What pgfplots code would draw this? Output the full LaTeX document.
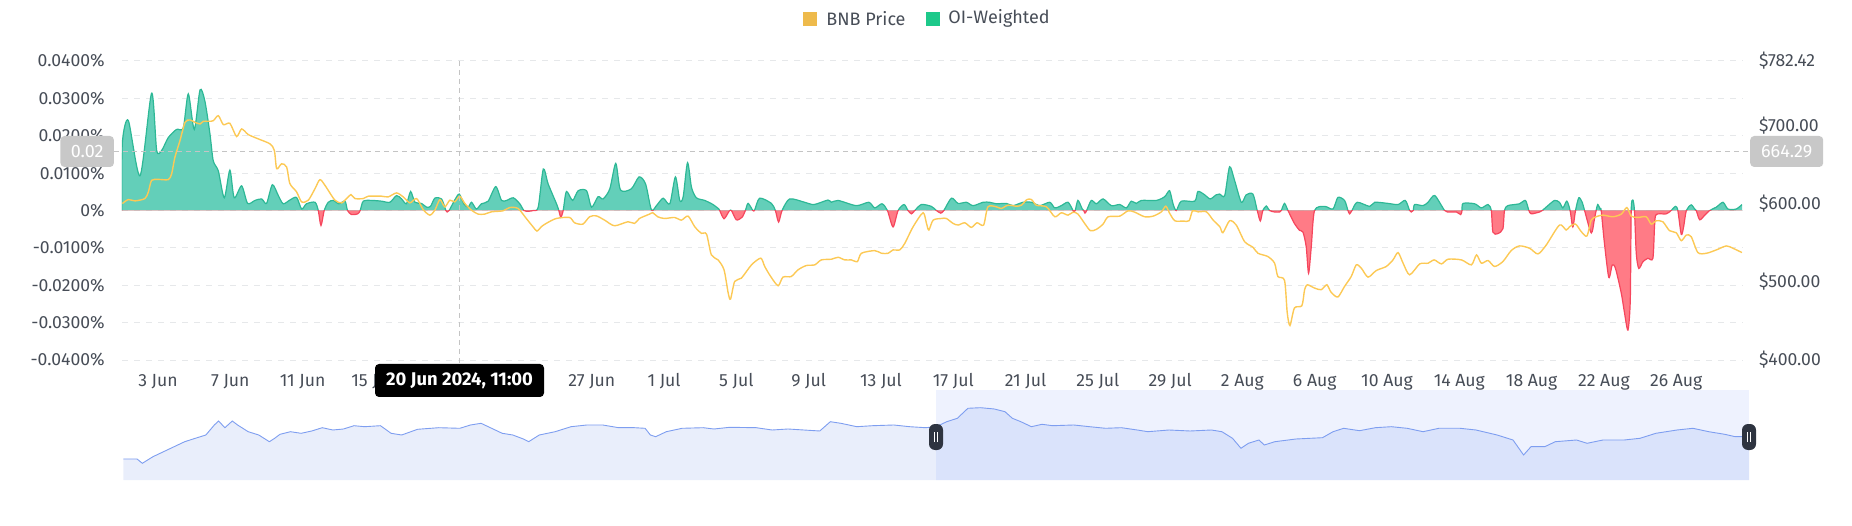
\documentclass[border=0pt]{standalone}
\usepackage{pgfplots}
\pgfplotsset{compat=1.18}
\usepackage{pgfplotstable}
\usepackage{fontspec}
\setmainfont{Fira Sans}
\definecolor{gridgray}{HTML}{E6E8EA}
\definecolor{labelgray}{HTML}{474D57}
\definecolor{ogreen}{HTML}{63CFB9}
\definecolor{ogreenline}{HTML}{2DB896}
\definecolor{ored}{HTML}{FF7B86}
\definecolor{oredline}{HTML}{F6465D}
\definecolor{bnbline}{HTML}{FCC955}
\definecolor{bnbsq}{HTML}{EEBA4B}
\definecolor{oisq}{HTML}{1DC98A}
\definecolor{crossgray}{HTML}{C4C4C4}
\definecolor{boxgray}{HTML}{C8C8C8}
\definecolor{navfill}{HTML}{E9EEFB}
\definecolor{navsel}{HTML}{EEF2FE}
\definecolor{navselfill}{HTML}{DAE3FB}
\definecolor{navline}{HTML}{7E9EF0}
\definecolor{handle}{HTML}{2E3440}

\pgfplotstableread{
x y
0.00 0
0.03 0.0181
0.36 0.0241
1.01 0.0093
1.65 0.0314
1.93 0.0161
2.21 0.0161
2.57 0.0195
3.03 0.0217
3.40 0.0221
3.68 0.0312
4.01 0.0217
4.33 0.0323
4.60 0.0292
4.88 0.0204
5.06 0.0133
5.34 0.0106
5.67 0.0034
5.98 0.0108
6.22 0.0034
6.63 0.0066
6.96 0.0019
7.37 0.0027
7.74 0.0031
8.01 0.0019
8.33 0.0069
8.66 0.0040
8.93 0.0018
9.30 0.0028
9.67 0.0035
9.95 0.0004
10.22 0.0018
10.69 0.0022
10.87 0
11.02 -0.0040
11.20 0
11.42 0.0022
11.70 0.0027
12.01 0.0018
12.35 0.0025
12.49 0
12.71 -0.0011
13.05 -0.0009
13.19 0
13.36 0.0025
13.82 0.0027
14.37 0.0025
14.83 0.0022
15.20 0.0040
15.48 0.0031
15.75 0.0018
15.98 0.0051
16.22 0.0022
16.58 0.0019
16.86 0.0009
17.08 0.0011
17.32 0.0033
17.69 0.0031
17.93 0
18.00 -0.0004
18.11 0
18.42 0.0028
18.67 0.0044
18.92 0.0018
19.16 0.0009
19.35 0.0022
19.62 0.0004
19.90 0.0018
20.27 0.0025
20.69 0.0064
21.01 0.0027
21.29 0.0027
21.66 0.0034
22.02 0.0018
22.25 0
22.50 -0.0002
22.76 0
23.04 0.0009
23.32 0.0111
23.59 0.0071
24.05 0.0018
24.18 0
24.29 -0.0018
24.42 0
24.60 0.0051
24.94 0.0027
25.25 0.0053
25.71 0.0053
25.99 0.0009
26.35 0.0037
26.63 0.0031
27.00 0.0058
27.33 0.0126
27.59 0.0055
28.19 0.0058
28.62 0.0090
28.98 0.0071
29.30 0.0002
29.58 0.0013
29.95 0.0033
30.32 0.0018
30.63 0.0090
30.87 0.0027
31.06 0.0037
31.30 0.0128
31.52 0.0062
31.79 0.0034
32.25 0.0027
32.71 0.0016
33.03 0.0004
33.08 0
33.32 -0.0022
33.60 -0.0002
33.73 0
34.00 -0.0025
34.32 -0.0018
34.50 0
34.65 0.0019
34.92 0
35.02 0.0002
35.29 0.0033
35.94 0.0019
36.16 0
36.34 -0.0031
36.53 0
36.95 0.0031
37.78 0.0022
38.30 0.0016
39.07 0.0028
39.26 0.0022
39.63 0.0027
40.64 0.0013
41.33 0.0022
41.66 0.0007
42.06 0.0018
42.36 0
42.67 -0.0044
42.95 0
43.28 0.0016
43.50 0
43.69 -0.0009
43.87 0
44.24 0.0016
44.79 0.0011
45.07 0
45.31 -0.0007
45.48 0
45.90 0.0033
46.27 0.0019
46.73 0.0022
47.10 0.0013
47.65 0.0022
48.02 0.0022
48.39 0.0018
48.94 0.0019
49.31 0.0013
49.86 0.0022
50.33 0.0022
50.79 0.0013
51.34 0.0022
51.62 0.0007
51.98 0.0013
52.35 0.0022
52.63 0
52.68 -0.0004
52.75 0
52.90 0.0027
53.14 0.0004
53.22 0
53.29 -0.0007
53.38 0
53.64 0.0027
53.92 0.0018
54.29 0.0031
54.75 0.0013
55.21 0.0016
55.58 0.0007
55.85 0.0025
56.13 0.0019
56.41 0.0027
57.24 0.0027
57.70 0.0037
57.97 0.0053
58.16 0.0018
58.34 0
58.62 0.0025
59.36 0.0025
59.54 0.0051
59.91 0.0042
60.22 0.0031
60.55 0.0042
60.74 0.0044
61.02 0.0040
61.29 0.0117
61.57 0.0080
61.94 0.0022
62.21 0.0042
62.58 0.0044
62.82 0
62.99 -0.0028
63.13 0
63.32 0.0012
63.50 0
63.78 -0.0004
64.06 -0.0004
64.15 0
64.33 0.0019
64.52 0
64.88 -0.0035
65.16 -0.0053
65.35 -0.0058
65.53 -0.0097
65.66 -0.0168
65.81 -0.0097
65.99 0
66.55 0.0011
67.01 0.0004
67.28 0.0035
67.65 0.0027
67.84 0
67.93 -0.0009
68.06 0
68.35 0.0022
69.04 0.0011
69.32 0.0022
70.05 0.0019
70.61 0.0016
71.01 0.0027
71.25 0
71.34 -0.0004
71.45 0
71.53 0.0016
71.99 0.0013
72.27 0.0022
72.64 0.0040
73.19 0
73.47 -0.0004
73.84 -0.0004
74.08 -0.0011
74.15 0
74.21 0.0019
74.85 0.0018
75.22 0.0007
75.59 0.0016
75.77 0
75.86 -0.0058
76.13 -0.0062
76.41 -0.0049
76.50 0
76.68 0.0013
77.33 0.0018
77.66 0.0027
77.85 0
77.98 -0.0009
78.44 -0.0004
78.59 0
78.90 0.0013
79.27 0.0027
79.54 0.0022
79.73 0.0007
79.95 0.0025
80.13 0
80.28 -0.0044
80.43 0
80.61 0.0034
80.80 0.0022
80.93 0
81.30 -0.0060
81.48 -0.0022
81.57 0
81.66 0.0016
81.79 0.0004
81.85 0
82.03 -0.0088
82.27 -0.0179
82.46 -0.0146
82.64 -0.0155
82.96 -0.0221
83.14 -0.0274
83.33 -0.0320
83.46 -0.0239
83.51 0
83.60 0.0028
83.69 0
83.79 -0.0115
83.93 -0.0155
84.16 -0.0137
84.43 -0.0128
84.71 -0.0128
84.80 -0.0044
84.89 -0.0011
85.45 -0.0009
85.72 0
85.96 0.0011
86.09 0
86.28 -0.0064
86.41 -0.0044
86.56 0
86.83 0.0015
87.02 0.0004
87.11 0
87.30 -0.0025
87.57 -0.0013
87.85 0
88.22 0.0009
88.59 0.0022
88.86 0.0004
89.32 0.0004
89.64 0.0016
}\fund

\pgfplotstableread{
x y
0.03 600.1
0.36 605.2
0.73 603.5
1.28 606.5
1.47 615
1.65 629.8
2.02 631
2.57 630.7
2.76 638.3
2.94 659.5
3.22 680.7
3.50 704
3.77 707
4.05 704
4.33 701.9
4.51 705.3
4.79 705.3
5.06 706
5.34 712.5
5.62 701
5.98 702.7
6.35 685.8
6.63 695.5
7.00 688.3
7.55 682.8
8.20 676.4
8.44 668
8.57 644.6
8.84 651
9.12 646.8
9.30 625.6
9.67 615
9.95 602.2
10.32 604.4
10.69 619.2
10.96 630.7
11.24 623.4
11.79 604.4
12.16 601
12.44 606.5
12.68 611.6
12.90 606.5
13.36 606.5
13.64 609.5
14.37 609.5
14.74 608.6
15.20 613.7
15.57 608.6
15.94 601
16.31 606.5
16.67 592.5
17.04 585.3
17.32 591.6
17.60 605.2
17.87 595.9
18.15 604.4
18.42 602.2
18.70 609.5
18.98 600.1
19.35 591.6
19.71 586.6
20.08 586.6
20.45 589.5
21.09 590.8
21.46 595
21.92 593.8
22.38 581
22.75 570.4
22.97 564.9
23.21 570.4
23.48 574.7
24.04 581
24.77 582.3
25.05 575.5
25.51 573.8
25.88 583.2
26.25 584.4
26.71 578.9
27.26 571.7
28.00 576.8
28.37 574.7
28.64 581
29.20 586.6
29.38 588.3
29.65 583.2
30.02 581
30.59 582.3
30.96 578.9
31.33 584
31.70 570.4
32.07 562
32.35 561.1
32.62 534.4
32.99 528
33.32 515.3
33.55 485.6
33.68 478
33.91 500.5
34.28 504.7
34.84 521.7
35.35 530.2
35.57 519.6
35.90 506.8
36.31 495
36.58 506
37.04 506.8
37.41 515.3
37.87 520.8
38.34 521.7
38.70 528
39.26 528.9
39.63 531.4
40.00 528
40.36 528
40.70 525.9
40.92 536.5
41.66 539.9
42.03 536.5
42.40 536.5
42.67 540.8
43.04 540.8
43.32 549.2
43.78 570.4
44.33 588.3
44.52 574.7
44.65 566.2
44.89 578.9
45.35 581
45.62 581
45.99 574.7
46.27 572.6
46.64 575.5
47.00 569.6
47.32 575.5
47.68 572.6
47.92 595.9
48.39 595.9
48.66 593.8
49.03 598
49.49 596.7
49.77 598
50.08 605.2
50.33 605.2
50.60 598
51.16 595.9
51.62 583.2
51.98 588.3
52.35 585.3
52.63 589.1
52.90 586.6
53.27 574.7
53.59 565.4
53.92 567.1
54.29 573.8
54.57 583.2
55.21 584
55.67 590.8
56.04 589.1
56.59 583.2
57.06 584
57.52 589.5
57.76 596.7
57.98 587.4
58.26 578.1
58.72 577.7
59.05 578.1
59.24 590.8
59.55 589.5
60.01 589.5
60.38 578.9
60.75 570.4
60.92 562.8
61.29 578.1
61.66 572.6
62.12 551.4
62.58 544.2
62.86 536.5
63.41 532.3
63.78 523.8
63.96 506.8
64.33 501.8
64.48 460.2
64.63 444.1
64.88 466.6
65.29 469.5
65.44 489.9
65.59 496.2
65.99 492
66.36 489.9
66.67 496.2
66.91 486.5
67.28 480.6
67.65 494.1
68.02 506.8
68.30 521.7
68.58 517.4
68.95 506
69.41 514.5
69.96 519.6
70.33 528
70.61 537.4
70.89 523.8
71.25 509
71.81 522.9
72.27 523.8
72.61 528
73.01 522.9
73.38 528.9
74.12 528
74.67 521.7
74.95 534.4
75.22 523.8
75.59 527.2
75.95 519.6
76.41 525.9
76.87 539.9
77.33 545.9
77.89 542.9
78.35 535.7
78.81 547.1
79.54 572.6
79.91 566.2
80.10 570.4
80.43 573.8
80.75 564.1
81.06 558.6
81.30 578.9
81.57 583.2
81.94 585.3
82.50 583.2
82.96 586.6
83.27 595
83.51 584
83.88 582.3
84.34 583.2
84.62 573.8
84.89 578.1
85.26 576.8
85.63 565.4
86.00 562.8
86.28 552.6
86.56 559.8
86.83 557.7
87.20 537.4
87.67 536.5
88.22 540.8
88.77 545.9
89.14 542.9
89.64 537.4
}\price

\pgfplotstableread{
x y
22 21
35 21
40 16.7
50 23.3
60 28.3
70 33.3
80 38.3
90 41.7
100 45
108 55
112 59
118 52.3
125 59
130 55
140 48.3
150 45
160 38.3
165 41.7
170 45.7
180 48.3
190 46.7
200 49
210 52.3
220 50
230 51
240 54.3
250 53.3
265 54.3
275 46.7
285 45
300 50.7
320 52.3
340 51.7
350 55
360 56.7
370 51.7
380 46.7
390 45
400 41
405 38.3
415 45
430 48.3
445 53.3
460 55
475 55
490 52.3
505 52.3
515 51.7
520 45
525 43.3
535 48.3
550 51.7
570 52.3
580 51
595 52.7
620 52.3
635 50
650 51
665 50
680 49
690 58.3
700 56.7
715 53.3
730 54.3
750 55
765 53.3
780 52.3
790 53.3
800 58.3
810 61.7
820 71.7
832 72.3
845 71
855 68.3
862 61.7
870 58.3
880 53.3
890 55.7
900 54.3
920 55
935 53.3
950 51.7
965 52.3
980 50
990 48.3
1010 50
1030 49
1050 50
1060 48.3
1070 41.7
1078 31.7
1085 36.7
1095 40
1100 35
1110 38.3
1130 41
1155 42.3
1165 48.3
1175 51.7
1190 49.3
1205 52.3
1220 53.3
1235 51.7
1250 48.3
1265 51.7
1285 51.7
1300 50
1320 45
1335 40
1345 25
1352 33.3
1365 33.3
1375 38.3
1395 40
1405 36.7
1420 40
1440 40
1455 41.7
1470 46.7
1490 50
1505 51.7
1520 48.3
1535 45.7
1545 43.3
1558 43.3
}\nav

\begin{document}
\begin{tikzpicture}
\useasboundingbox (0pt,0pt) rectangle (926pt,262.5pt);

\begin{scope}[x=0.5pt,y=0.5pt]
% legend
\fill[bnbsq] (802.7,499.3) rectangle (816.7,513.3);
\node[anchor=west, inner sep=0pt, text=labelgray, font=\fontsize{9}{11}\selectfont] at (826,506.3) {BNB Price};
\fill[oisq] (925.7,499.3) rectangle (939.7,513.3);
\node[anchor=west, inner sep=0pt, text=labelgray, font=\fontsize{9}{11}\selectfont] at (948,506.3) {OI-Weighted};
\end{scope}

% main axis: funding rate
\begin{axis}[
  at={(60.9pt,82.5pt)}, anchor=south west,
  scale only axis, width=810.1pt, height=149.5pt,
  xmin=0, xmax=89.64, ymin=-0.04, ymax=0.04,
  axis line style={draw=none}, major tick length=0pt,
  scaled y ticks=false, scaled x ticks=false,
  ytick={-0.04,-0.03,-0.02,-0.01,0,0.01,0.02,0.03,0.04},
  yticklabels={-0.0400\%,-0.0300\%,-0.0200\%,-0.0100\%,0\%,0.0100\%,0.0200\%,0.0300\%,0.0400\%},
  xtick={2,6,10,14,26,30,34,38,42,46,50,54,58,62,66,70,74,78,82,86},
  xticklabels={3 Jun,7 Jun,11 Jun,15 Jun,27 Jun,1 Jul,5 Jul,9 Jul,13 Jul,17 Jul,21 Jul,25 Jul,29 Jul,2 Aug,6 Aug,10 Aug,14 Aug,18 Aug,22 Aug,26 Aug},
  ymajorgrids, grid style={gridgray, dash pattern=on 3pt off 3pt, line width=0.5pt},
  tick label style={font=\fontsize{8.8}{10}\selectfont, text=labelgray},
  yticklabel style={anchor=east, xshift=-5pt},
  xticklabel style={anchor=base, yshift=-13pt},
]
\begin{scope}
\clip (axis cs:0,0) rectangle (axis cs:89.64,0.05);
\addplot[fill=ogreen, draw=none, smooth, tension=0.45] table[x=x,y=y] {\fund} \closedcycle;
\addplot[draw=ogreenline, line width=0.6pt, smooth, tension=0.45] table[x=x,y=y] {\fund};
\end{scope}
\begin{scope}
\clip (axis cs:0,-0.05) rectangle (axis cs:89.64,0);
\addplot[fill=ored, draw=none, smooth, tension=0.45] table[x=x,y=y] {\fund} \closedcycle;
\addplot[draw=oredline, line width=0.6pt, smooth, tension=0.45] table[x=x,y=y] {\fund};
\end{scope}
\end{axis}

% right axis: BNB price
\begin{axis}[
  at={(60.9pt,82.5pt)}, anchor=south west,
  scale only axis, width=810.1pt, height=149.5pt,
  xmin=0, xmax=89.64, ymin=400, ymax=782.42,
  axis line style={draw=none}, major tick length=0pt,
  scaled y ticks=false,
  xtick=\empty,
  yticklabel pos=right,
  ytick={400,500,600,700,782.42},
  yticklabels={\$400.00,\$500.00,\$600.00,\$700.00,\$782.42},
  tick label style={font=\fontsize{8.8}{10}\selectfont, text=labelgray},
  yticklabel style={anchor=west, xshift=5pt},
]
\addplot[draw=bnbline, line width=0.7pt, smooth, tension=0.45] table[x=x,y=y] {\price};
\end{axis}

\begin{scope}[x=0.5pt,y=0.5pt]
% crosshair
\draw[crossgray, dash pattern=on 2.5pt off 2pt, line width=0.6pt] (114,373.3) -- (1750,373.3);
\draw[crossgray, dash pattern=on 2.5pt off 2pt, line width=0.6pt] (459.5,464) -- (459.5,161);
\node[fill=boxgray, rounded corners=2pt, text=white, minimum width=26.75pt, minimum height=15.5pt, inner sep=0pt, font=\fontsize{9}{11}\selectfont] at (87.2,373.5) {0.02};
\node[fill=boxgray, rounded corners=2pt, text=white, minimum width=36.5pt, minimum height=15.5pt, inner sep=0pt, font=\fontsize{9}{11}\selectfont] at (1786.7,373.5) {664.29};
\node[fill=black, rounded corners=2pt, text=white, minimum width=84.5pt, minimum height=16.5pt, inner sep=0pt, font=\bfseries\fontsize{9.2}{11}\selectfont] at (459.5,144.5) {20 Jun 2024, 11:00};
% navigator selected band
\fill[navsel] (936,135) rectangle (1749,45);
\end{scope}

% navigator
\begin{axis}[
  at={(61.65pt,22.5pt)}, anchor=south west,
  scale only axis, width=812.85pt, height=45pt,
  xmin=22, xmax=1558, ymin=0, ymax=90,
  axis lines=none, ticks=none,
]
\addplot[fill=navfill, draw=none, restrict x to domain=22:790] table[x=x,y=y] {\nav} \closedcycle;
\addplot[fill=navselfill, draw=none, restrict x to domain=790:1558] table[x=x,y=y] {\nav} \closedcycle;
\addplot[draw=navline, line width=0.45pt] table[x=x,y=y] {\nav};
\end{axis}

\begin{scope}[x=0.5pt,y=0.5pt]
\node[fill=handle, rounded corners=3pt, minimum width=7pt, minimum height=13pt, inner sep=0pt] at (936,88) {};
\draw[white, line width=0.35pt] (934.8,83) -- (934.8,93) (937.2,83) -- (937.2,93);
\node[fill=handle, rounded corners=3pt, minimum width=7pt, minimum height=13pt, inner sep=0pt] at (1749,88) {};
\draw[white, line width=0.35pt] (1747.8,83) -- (1747.8,93) (1750.2,83) -- (1750.2,93);
\end{scope}
\end{tikzpicture}
\end{document}
